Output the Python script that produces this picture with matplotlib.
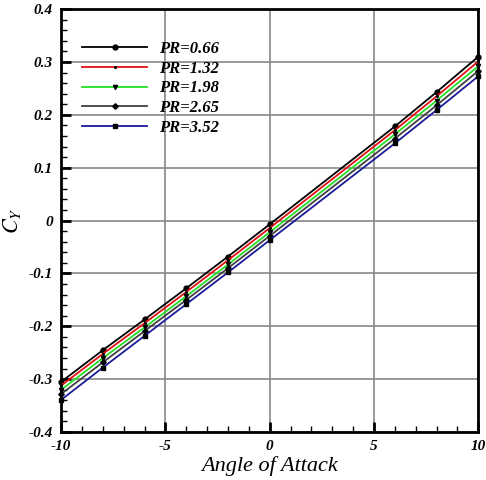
import matplotlib
matplotlib.use("Agg")
import matplotlib.pyplot as plt
from matplotlib.ticker import MultipleLocator

plt.rcParams["mathtext.fontset"] = "stix"

angles = [-10, -8, -6, -4, -2, 0, 6, 8, 10]
labels = ["PR=0.66", "PR=1.32", "PR=1.98", "PR=2.65", "PR=3.52"]
cy_066 = [-0.305, -0.245, -0.187, -0.128, -0.068, -0.007, 0.178, 0.243, 0.310]
cy_132 = [-0.312, -0.252, -0.194, -0.135, -0.075, -0.014, 0.171, 0.235, 0.301]
cy_198 = [-0.320, -0.260, -0.202, -0.143, -0.083, -0.022, 0.163, 0.227, 0.292]
cy_265 = [-0.328, -0.268, -0.209, -0.150, -0.090, -0.029, 0.155, 0.218, 0.283]
cy_352 = [-0.339, -0.278, -0.218, -0.158, -0.098, -0.037, 0.146, 0.209, 0.273]
series = [cy_066, cy_132, cy_198, cy_265, cy_352]
colors = ["#000000", "#e01010", "#20e020", "#404040", "#1a1a9a"]
markers = ["o", ".", "v", "D", "s"]
msizes = [3.5, 2.5, 3, 2.8, 3]

fig = plt.figure(figsize=(4.86, 4.8), dpi=100)
ax = fig.add_axes([0.126, 0.1, 0.858, 0.881])

for ys, c, m, ms, lab in zip(series, colors, markers, msizes, labels):
    ax.plot(angles, ys, color=c, marker=m, markersize=ms, markerfacecolor="black",
            markeredgecolor="black", lw=1.3, label=lab, zorder=3, clip_on=False)

ax.set_xlim(-10, 10)
ax.set_ylim(-0.4, 0.4)
ax.xaxis.set_minor_locator(MultipleLocator(1))
ax.yaxis.set_minor_locator(MultipleLocator(0.02))
ax.grid(True, which="major", color="#888888", lw=1.2, zorder=1)
ax.tick_params(which="major", direction="in", length=7, width=2, top=False, right=False, pad=6)
ax.tick_params(which="minor", direction="in", length=4, width=1, top=False, right=False)
for s in ax.spines.values():
    s.set_linewidth(2)

tick_font = dict(family="Liberation Serif", weight="bold", style="italic", size=11)
ax.set_xticks([-10, -5, 0, 5, 10])
ax.set_xticklabels(["-10", "-5", "0", "5", "10"], fontdict=tick_font)
yt = [-0.4, -0.3, -0.2, -0.1, 0, 0.1, 0.2, 0.3, 0.4]
ax.set_yticks(yt)
ax.set_yticklabels(["-0.4", "-0.3", "-0.2", "-0.1", "0", "0.1", "0.2", "0.3", "0.4"], fontdict=tick_font)

ax.set_xlabel("Angle of Attack", family="Liberation Serif", style="italic", size=16, labelpad=2)
ax.set_ylabel(r"$C_Y$", family="Liberation Serif", size=16, labelpad=4)

leg = ax.legend(loc="upper left", bbox_to_anchor=(0.015, 0.96), frameon=False, numpoints=1,
                handlelength=3.9, handletextpad=0.7, labelspacing=0.22,
                prop=dict(family="Liberation Serif", weight="bold", style="italic", size=12))

fig.savefig("out.png", dpi=100)
